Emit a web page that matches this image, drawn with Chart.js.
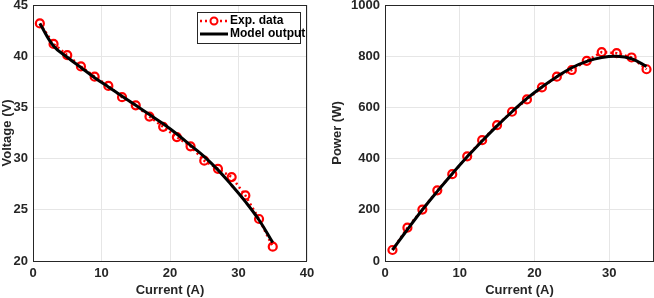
<!DOCTYPE html>
<html>
<head>
<meta charset="utf-8">
<script src="https://cdn.jsdelivr.net/npm/chart.js@4"></script>
<style>
  body { margin: 0; background: #fff; width: 654px; height: 298px; overflow: hidden; }
  .box { position: absolute; top: 0; height: 298px; }
  #left { left: 0; width: 322px; }
  #right { left: 330px; width: 324px; }
</style>
</head>
<body>
<div class="box" id="left"><canvas id="voltChart"></canvas></div>
<div class="box" id="right"><canvas id="powerChart"></canvas></div>
<script>
// currents (A)
const current = [1, 3, 5, 7, 9, 11, 13, 15, 17, 19, 21, 23, 25, 27, 29, 31, 33, 35];
// measured values
const expVoltage = [43.2, 41.2, 40.1, 39.0, 38.0, 37.1, 36.0, 35.2, 34.1, 33.1, 32.1, 31.2, 29.8, 29.0, 28.2, 26.4, 24.1, 21.4];
const expPower = [43, 130, 201, 276, 339, 409, 472, 531, 583, 631, 678, 720, 746, 782, 816, 812, 795, 749];
// model output
const modelVoltage = [43.2, 41.0, 39.9, 38.9, 37.9, 37.0, 36.1, 35.2, 34.3, 33.4, 32.4, 31.3, 30.2, 28.9, 27.4, 25.8, 24.0, 21.8];
const modelPower = [43, 123, 200, 272, 341, 407, 469, 528, 583, 635, 680, 720, 755, 780, 795, 800, 790, 760];
// tick labels
const voltXTicks = [0, 10, 20, 30, 40];
const voltYTicks = [20, 25, 30, 35, 40, 45];
const powerXTicks = [0, 10, 20, 30];
const powerYTicks = [0, 200, 400, 600, 800, 1000];

const legendNames = ['Exp. data', 'Model output'];

const textColor = '#262626';
const fontBold = { family: 'Liberation Sans, Arial, sans-serif', size: 13, weight: 'bold' };

function points(xs, ys) {
  return xs.map((x, i) => ({ x: x, y: ys[i] }));
}

// box around the axes, like matlab
const frame = {
  id: 'frame',
  afterDraw(chart) {
    const a = chart.chartArea;
    const c = chart.ctx;
    c.save();
    c.strokeStyle = '#262626';
    c.lineWidth = 1;
    c.strokeRect(a.left + 0.5, a.top + 0.5, a.right - a.left - 1, a.bottom - a.top);
    c.restore();
  }
};

// small legend inside the upper right corner
const insideLegend = {
  id: 'insideLegend',
  afterDraw(chart, args, opts) {
    if (!opts.show) return;
    const c = chart.ctx;
    const a = chart.chartArea;
    const w = 103, h = 31;
    const x0 = a.right - 7 - w, y0 = a.top + 7;
    c.save();
    c.fillStyle = '#fff';
    c.fillRect(x0, y0, w, h);
    c.strokeStyle = '#262626';
    c.lineWidth = 1;
    c.strokeRect(x0 + 0.5, y0 + 0.5, w, h);
    const r1 = y0 + 9, r2 = y0 + 22;
    // exp row
    c.strokeStyle = 'red';
    c.lineWidth = 2.5;
    c.setLineDash([2, 3]);
    c.beginPath(); c.moveTo(x0 + 3, r1); c.lineTo(x0 + 31, r1); c.stroke();
    c.setLineDash([]);
    c.lineWidth = 2;
    c.beginPath(); c.arc(x0 + 17, r1, 3.5, 0, Math.PI * 2); c.fillStyle = '#fff'; c.fill(); c.stroke();
    // model row
    c.strokeStyle = '#000';
    c.lineWidth = 3;
    c.beginPath(); c.moveTo(x0 + 3, r2); c.lineTo(x0 + 31, r2); c.stroke();
    c.fillStyle = '#000';
    c.font = 'bold 12px "Liberation Sans", Arial, sans-serif';
    c.textBaseline = 'middle';
    c.fillText(legendNames[0], x0 + 33, r1);
    c.fillText(legendNames[1], x0 + 33, r2);
    c.restore();
  }
};

function makeChart(id, expY, modelY, xTicks, xMax, yTicks, yTitle, yWidth, padRight, showLegend) {
  const ctx = document.getElementById(id).getContext('2d');
  return new Chart(ctx, {
    type: 'scatter',
    data: {
      datasets: [
        {
          label: legendNames[1],
          data: points(current, modelY),
          showLine: true,
          borderColor: '#000',
          borderWidth: 3,
          pointRadius: 0,
          tension: 0.4,
          order: 1
        },
        {
          label: legendNames[0],
          data: points(current, expY),
          showLine: true,
          borderColor: 'red',
          borderWidth: 2.5,
          borderDash: [2, 3],
          pointRadius: 4,
          pointBorderWidth: 2.2,
          pointBackgroundColor: 'rgba(0,0,0,0)',
          pointBorderColor: 'red',
          order: 2
        }
      ]
    },
    plugins: [frame, insideLegend],
    options: {
      responsive: false,
      animation: false,
      maintainAspectRatio: false,
      layout: { autoPadding: false, padding: { top: 5, right: padRight, left: 0, bottom: 0 } },
      plugins: {
        legend: { display: false },
        tooltip: { enabled: false },
        insideLegend: { show: showLegend }
      },
      scales: {
        x: {
          type: 'linear',
          min: xTicks[0],
          max: xMax,
          afterBuildTicks: s => { s.ticks = xTicks.map(v => ({ value: v })); },
          afterFit: s => { s.height = 37; s.paddingLeft = 0; s.paddingRight = 0; },
          grid: { color: '#e6e6e6', tickLength: 0 },
          border: { display: false },
          ticks: { color: textColor, font: fontBold, padding: 5, maxRotation: 0, callback: v => String(v) },
          title: { display: true, text: 'Current (A)', color: textColor, font: fontBold, padding: 0 }
        },
        y: {
          min: yTicks[0],
          max: yTicks[yTicks.length - 1],
          afterBuildTicks: s => { s.ticks = yTicks.map(v => ({ value: v })); },
          afterFit: s => { s.width = yWidth; s.paddingTop = 0; s.paddingBottom = 0; },
          grid: { color: '#e6e6e6', tickLength: 0 },
          border: { display: false },
          ticks: { color: textColor, font: fontBold, padding: 5, callback: v => String(v) },
          title: { display: true, text: yTitle, color: textColor, font: fontBold, padding: 0 }
        }
      }
    }
  });
}

function sizeCanvas(id, w) {
  const cv = document.getElementById(id);
  cv.width = w; cv.height = 298;
  cv.style.width = w + 'px'; cv.style.height = '298px';
}
sizeCanvas('voltChart', 322);
sizeCanvas('powerChart', 324);

makeChart('voltChart', expVoltage, modelVoltage, voltXTicks, 40, voltYTicks, 'Voltage (V)', 33, 15, true);
makeChart('powerChart', expPower, modelPower, powerXTicks, 36, powerYTicks, 'Power (W)', 55, 0, false);
</script>
</body>
</html>
